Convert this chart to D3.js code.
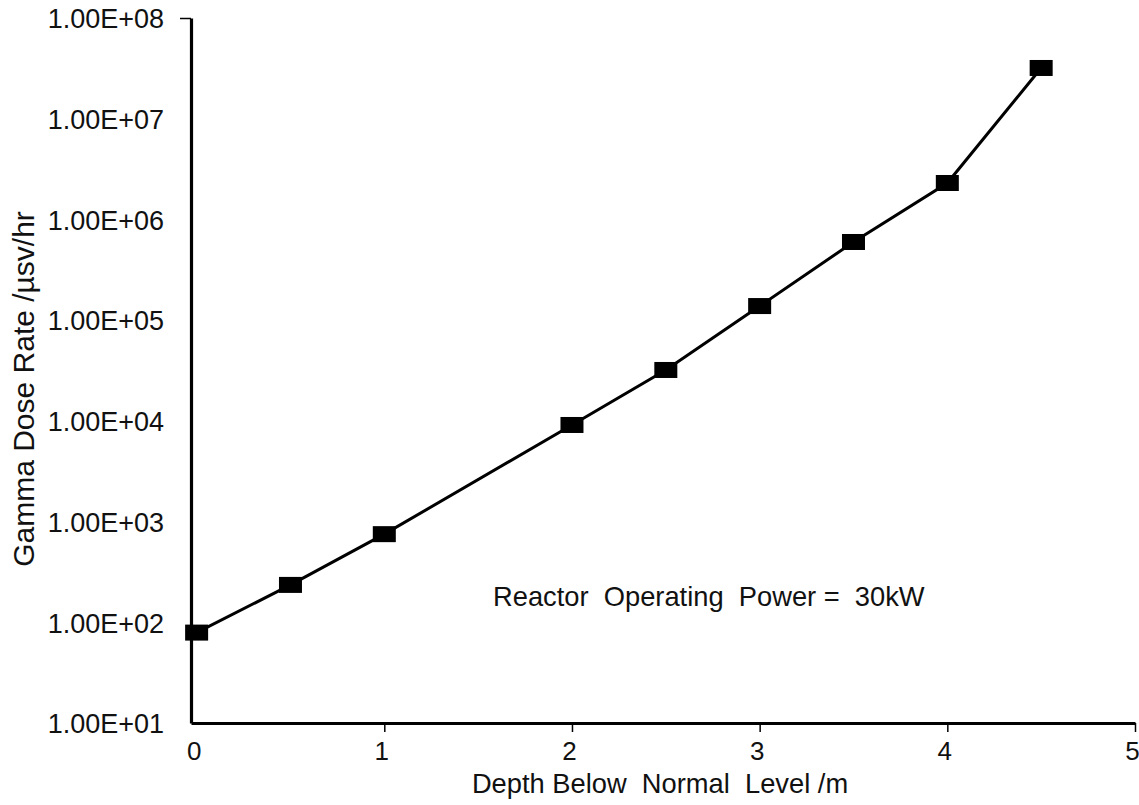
<!DOCTYPE html>
<html>
<head>
<meta charset="utf-8">
<script src="https://cdn.jsdelivr.net/npm/d3@7"></script>
<style>
  body { margin: 0; background: #fff; }
  text { font-family: "Liberation Sans", Arial, sans-serif; fill: #111; }
</style>
</head>
<body>
<div id="plot-area"></div>
<script>
// Gamma dose rate vs depth below normal level (log scale)

const depths = [0, 0.5, 1, 2, 2.5, 3, 3.5, 4, 4.5];
const doseRates = [79, 235, 750, 9100, 32000, 138000, 597000, 2300000, 31900000];
const xTicks = [0, 1, 2, 3, 4, 5];
const yTicks = [1e1, 1e2, 1e3, 1e4, 1e5, 1e6, 1e7, 1e8];
const yTickLabels = ["1.00E+01", "1.00E+02", "1.00E+03", "1.00E+04", "1.00E+05", "1.00E+06", "1.00E+07", "1.00E+08"];
const note = "Reactor  Operating  Power =  30kW";

const w = 1139, h = 805;
const p_t = 18, p_r = 4, p_b = 82, p_l = 191; // padding, clockwise from top

const svg = d3.select("#plot-area").
append("svg").
attr("width", w).
attr("height", h);

// Scales
const xScale = d3.scaleLinear().
domain([-0.03, 5]).
range([p_l, w - p_r]);

const yScale = d3.scaleLog().
domain([10, 1e8]).
range([h - p_b, p_t]);

// Axes
const xAxis = svg.append("g").
attr("transform", `translate(0 ${h - p_b})`).
call(d3.axisBottom(xScale).
tickValues(xTicks).
tickFormat(d3.format("d")).
tickSizeInner(9).
tickSizeOuter(0).
tickPadding(10));

xAxis.select(".domain").attr("stroke-width", 3.2);
xAxis.selectAll(".tick line").attr("stroke-width", 1.5);
xAxis.selectAll(".tick").filter(d => d === 0).select("line").remove();
xAxis.selectAll(".tick text").
attr("x", -3).
style("font-size", "26px").
style("font-family", "Liberation Sans, Arial, sans-serif");

const yAxis = svg.append("g").
attr("transform", `translate(${p_l} 0)`).
call(d3.axisLeft(yScale).
tickValues(yTicks).
tickFormat((d, i) => yTickLabels[i]).
tickSizeInner(0).
tickSizeOuter(0).
tickPadding(27));

yAxis.select(".domain").attr("stroke-width", 3.2);
yAxis.selectAll(".tick").filter(d => d === 1e8).select("line").
attr("x2", -11).
attr("stroke-width", 1.5);
yAxis.selectAll(".tick text").
attr("dy", "0.36em").
style("font-size", "27px").
style("font-family", "Liberation Sans, Arial, sans-serif");

// Axis titles
svg.append("text").
attr("x", 660).
attr("y", 793).
attr("text-anchor", "middle").
style("font-size", "27.3px").
style("white-space", "pre").
text("Depth Below  Normal  Level /m");

svg.append("text").
attr("transform", "translate(34 389) rotate(-90)").
attr("text-anchor", "middle").
style("font-size", "30px").
text("Gamma Dose Rate /\u00b5sv/hr");

// Annotation
svg.append("text").
attr("x", 493).
attr("y", 606).
style("font-size", "27.3px").
style("white-space", "pre").
text(note);

// Data line
const points = depths.map((d, i) => [d, doseRates[i]]);

svg.append("path").
datum(points).
attr("fill", "none").
attr("stroke", "#000").
attr("stroke-width", 3).
attr("d", d3.line().x(d => xScale(d[0])).y(d => yScale(d[1])));

// Square markers
const m_w = 23, m_h = 16;
svg.selectAll("rect.marker").
data(points).
enter().
append("rect").
attr("class", "marker").
attr("x", d => xScale(d[0]) - m_w / 2).
attr("y", d => yScale(d[1]) - m_h / 2).
attr("width", m_w).
attr("height", m_h).
attr("fill", "#000");
</script>
</body>
</html>
